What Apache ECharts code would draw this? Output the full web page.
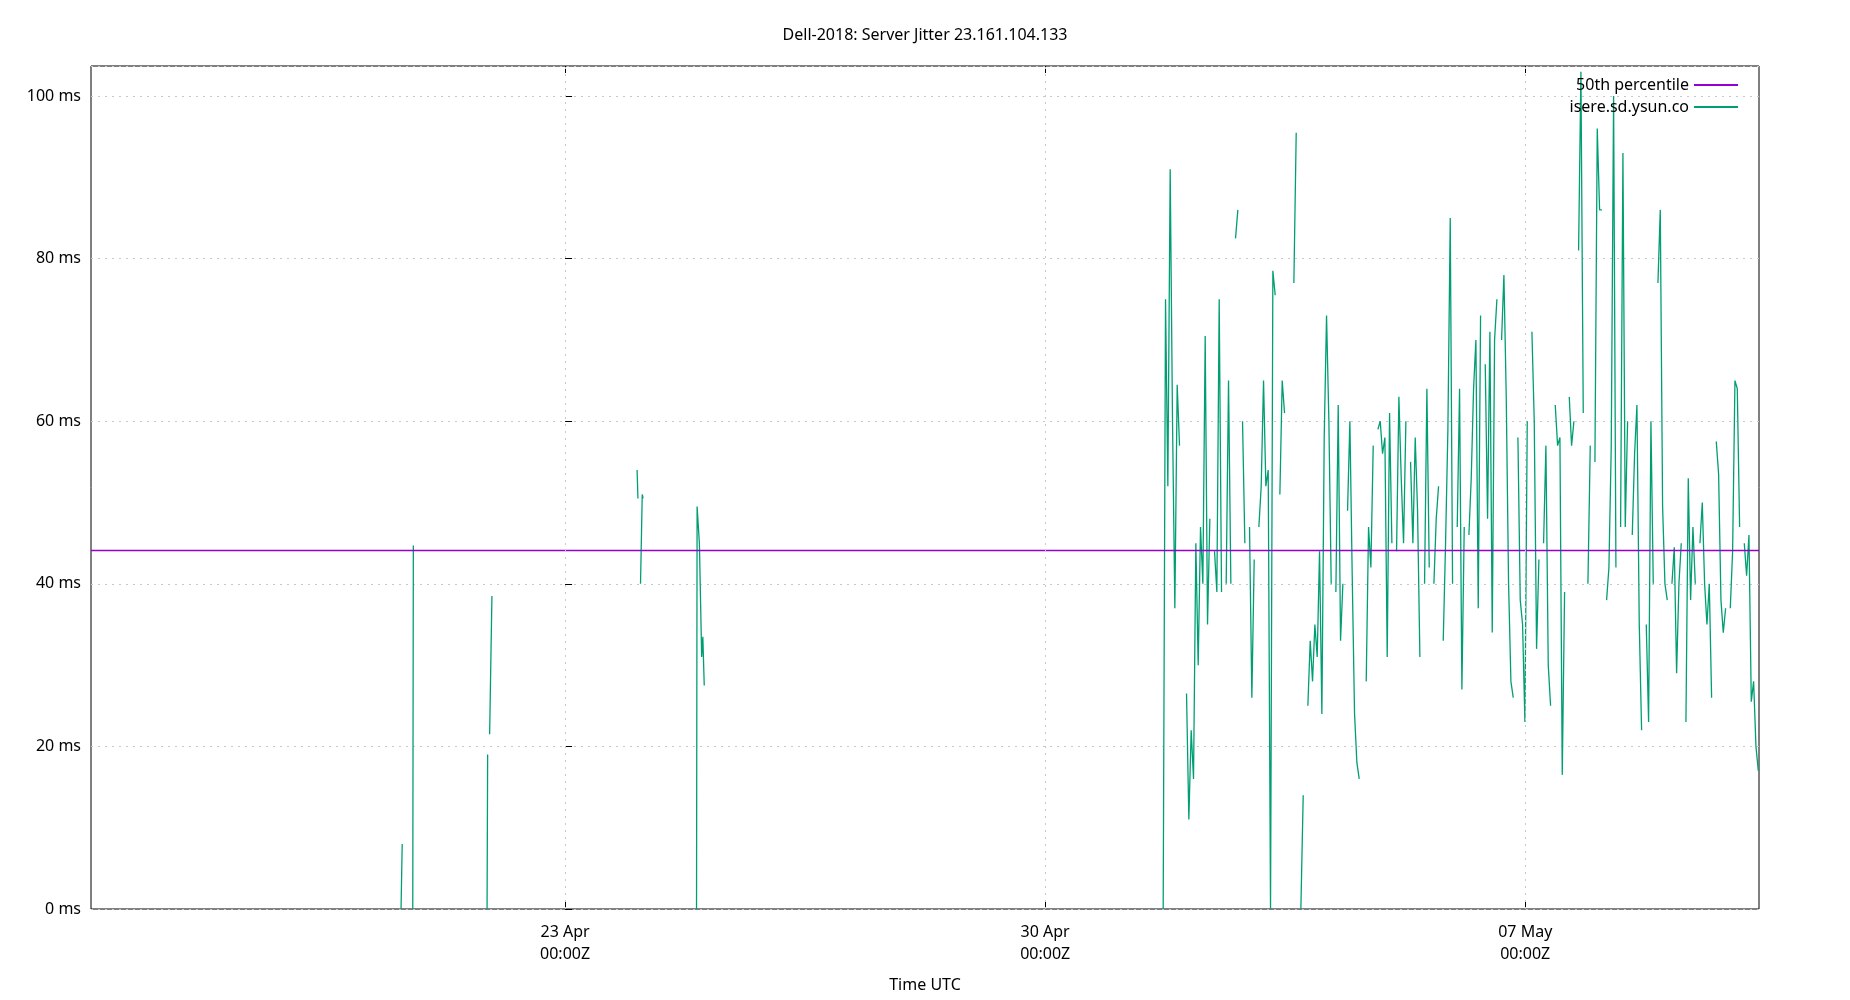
<!DOCTYPE html>
<html><head><meta charset="utf-8">
<script src="https://cdn.jsdelivr.net/npm/echarts@6/dist/echarts.min.js"></script>
<style>html,body{margin:0;padding:0;background:#fff}#c{width:1850px;height:1000px}</style>
</head><body><div id="c"></div>
<script>
// hours relative to 23 Apr 00:00Z
const xMin = -165.9, xMax = 417.8;
const tickHours = [0, 168, 336];
const tickLabels = ['23 Apr\n00:00Z', '30 Apr\n00:00Z', '07 May\n00:00Z'];
const percentile50 = 44.1;
const earlyHours = [-57.4,-57.0,null,-53.3,-53.1,null,-27.3,-27.1,null,-26.4,-25.6,null,25.2,25.5,null,26.4,27.0,27.3,null,46.0,46.2,47.0,47.8,48.2,48.7];
const earlyValues = [0,8,null,0,44.7,null,0,19,null,21.5,38.5,null,54,50.5,null,40,51,50.5,null,0,49.5,45,31,33.5,27.5];
const denseStartHour = 209.3, denseStepHours = 49/60;
const denseValues = [
0,75,52,91,60,37,64.5,57,null,null,26.5,11,22,16,45,30,47,40,70.5,35,48,null,44,39,75,39,null,40,65,40,
null,82.5,86,null,60,45,null,47,26,43,null,47,52,65,52,54,0,78.5,75.5,null,51,65,61,null,50,null,77,95.5,null,0,14,null,
25,33,28,35,31,44,24,58,73,60,40,null,39,62,33,40,null,49,60,41,24,18,16,null,null,
28,47,42,57,null,59,60,56,58,31,61,45,null,44,63,53,45,60,null,55,45,58,49,31,null,40,64,42,null,40,48,52,null,
33,45,59,85,40,null,47,64,27,47,null,46,53,64,70,37,73,null,67,48,71,34,70,75,null,70,78,63,40,28,26,null,58,38,35,23,60,null,71,60,32,43,null,45,57,30,25,null,62,57,58,16.5,39,null,63,57,60,null,
81,103,61,null,40,57,null,55,96,86,86,null,
38,42,57,100,42,null,47,93,47,60,null,46,56,62,35,22,null,35,23,60,40,null,77,86,49.5,40,38,null,40,44.5,29,40,45,null,23,53,38,47,40,null,45,50,40,35,40,26,null,57.5,53.5,38,34,37,null,37,44,65,64,47,null,45,41,46,25.5,28,20,17];

const jitter = [];
earlyHours.forEach((h,i)=>jitter.push(h===null?[null,null]:[h,earlyValues[i]]));
jitter.push([null,null]);
denseValues.forEach((v,i)=>jitter.push(v===null?[null,null]:[denseStartHour+i*denseStepHours, v]));

const F = 'Noto Sans';
const chart = echarts.init(document.getElementById('c'));
const xCommon = {type:'value', min:xMin, max:xMax, axisLine:{show:false}, splitLine:{show:false}};
chart.setOption({
  animation:false,
  title:{text:'Dell-2018: Server Jitter 23.161.104.133', left:'center', top:22,
    textStyle:{fontFamily:F,fontSize:16,fontWeight:'normal',color:'#000'}},
  legend:{right:107, top:72, orient:'vertical', align:'right', itemGap:6, itemWidth:44, itemHeight:2,
    icon:'rect', textStyle:{fontFamily:F,fontSize:16,color:'#000'},
    data:['50th percentile','isere.sd.ysun.co']},
  grid:{left:91, right:91, top:66, bottom:91, show:true, borderColor:'#000', borderWidth:1},
  xAxis:[
    Object.assign({}, xCommon, {position:'bottom', name:'Time UTC', nameLocation:'middle', nameGap:68,
      nameTextStyle:{fontFamily:F,fontSize:16,color:'#000'},
      axisTick:{show:true, inside:true, length:7, customValues:tickHours, lineStyle:{color:'#000'}},
      axisLabel:{customValues:tickHours, fontFamily:F, fontSize:16, color:'#000', margin:12, lineHeight:22,
        formatter:v=>tickLabels[tickHours.indexOf(Math.round(v))] || ''}}),
    Object.assign({}, xCommon, {position:'top',
      axisTick:{show:true, inside:true, length:7, customValues:tickHours, lineStyle:{color:'#000'}},
      axisLabel:{show:false}})
  ],
  yAxis:{type:'value', min:0, max:103.7, interval:20,
    axisLine:{show:false},
    axisTick:{show:true, inside:true, length:7, lineStyle:{color:'#000'}},
    axisLabel:{fontFamily:F,fontSize:16,color:'#000', margin:10, showMaxLabel:false,
      formatter:v=> (v%20===0 ? v+' ms' : '')},
    splitLine:{show:true, lineStyle:{color:'#c8c8c8', type:[2,5], width:1}}},
  series:[
    {name:'50th percentile', type:'line', symbol:'none', color:'#9400d3', lineStyle:{width:1.3},
      data:[[xMin,percentile50],[xMax,percentile50]], z:3},
    {name:'isere.sd.ysun.co', type:'line', symbol:'none', color:'#009e73', connectNulls:false,
      lineStyle:{width:1.3}, data:jitter, z:2},
    {type:'line', data:[], markLine:{silent:true, symbol:'none', label:{show:false},
      lineStyle:{color:'#c8c8c8', type:[2,5], width:1},
      data:tickHours.map(h=>({xAxis:h}))}}
  ]
});
</script></body></html>
